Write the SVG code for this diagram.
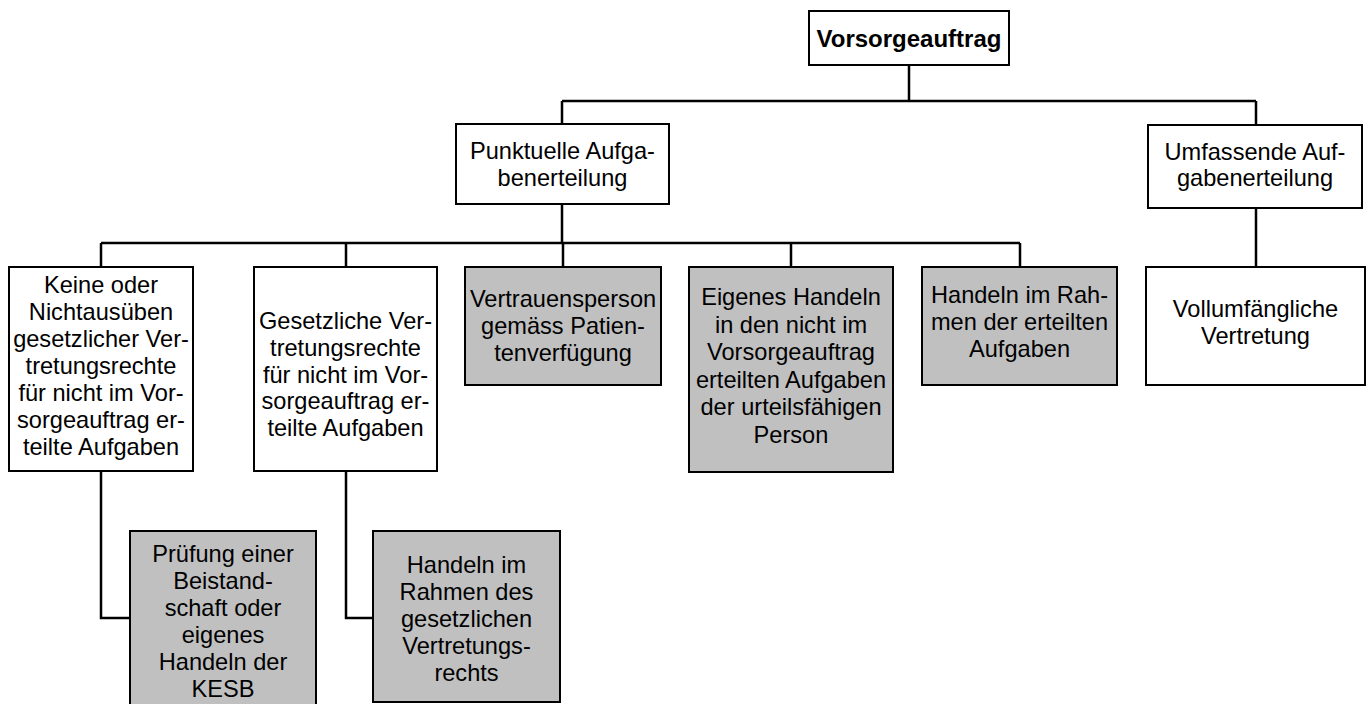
<svg xmlns="http://www.w3.org/2000/svg" width="1370" height="704" viewBox="0 0 1370 704">
<style>
.w{fill:#ffffff;stroke:#000000;stroke-width:2}
.g{fill:#c0c0c0;stroke:#000000;stroke-width:2}
text{font-family:"Liberation Sans",Arial,sans-serif;font-size:23.6px;fill:#000000;text-anchor:middle}
.b{font-weight:bold;font-size:24px}
.c{fill:none;stroke:#000000;stroke-width:2.5}
</style>
<rect width="1370" height="704" fill="#ffffff"/>
<g id="connectors">
<path class="c" d="M909 65V101M562 101H1256M562 101V124M1256 101V125"/>
<path class="c" d="M562 204V243M101 243H1020M101 243V267M346 243V267M563 243V267M791 243V267M1020 243V267"/>
<path class="c" d="M1256 208V267"/>
<path class="c" d="M101 471V618H130"/>
<path class="c" d="M346 471V618H373"/>
</g>
<g id="n-vorsorgeauftrag">
<rect class="w" x="809" y="11" width="200" height="54"/>
<text class="b" x="909" y="47">Vorsorgeauftrag</text>
</g>
<g id="n-punktuelle">
<rect class="w" x="456" y="124" width="213" height="80"/>
<text x="562.5" y="158.5">Punktuelle Aufga-</text>
<text x="562.5" y="185.5">benerteilung</text>
</g>
<g id="n-umfassende">
<rect class="w" x="1148" y="125" width="214" height="83"/>
<text x="1255" y="160">Umfassende Auf-</text>
<text x="1255" y="186">gabenerteilung</text>
</g>
<g id="n-keine">
<rect class="w" x="9" y="267" width="184" height="204"/>
<text x="101" y="293">Keine oder</text>
<text x="101" y="320">Nichtausüben</text>
<text x="101" y="347">gesetzlicher Ver-</text>
<text x="101" y="374">tretungsrechte</text>
<text x="101" y="401">für nicht im Vor-</text>
<text x="101" y="428">sorgeauftrag er-</text>
<text x="101" y="455">teilte Aufgaben</text>
</g>
<g id="n-gesetzliche">
<rect class="w" x="254" y="267" width="183" height="204"/>
<text x="345.5" y="328.5">Gesetzliche Ver-</text>
<text x="345.5" y="355.5">tretungsrechte</text>
<text x="345.5" y="382.5">für nicht im Vor-</text>
<text x="345.5" y="409">sorgeauftrag er-</text>
<text x="345.5" y="436">teilte Aufgaben</text>
</g>
<g id="n-vertrauensperson">
<rect class="g" x="465" y="267" width="196" height="118"/>
<text x="563" y="306.5">Vertrauensperson</text>
<text x="563" y="333.5">gemäss Patien-</text>
<text x="563" y="360.5">tenverfügung</text>
</g>
<g id="n-eigenes">
<rect class="g" x="689" y="267" width="204" height="205"/>
<text x="791" y="305">Eigenes Handeln</text>
<text x="791" y="332.6">in den nicht im</text>
<text x="791" y="360.2">Vorsorgeauftrag</text>
<text x="791" y="387.8">erteilten Aufgaben</text>
<text x="791" y="415.4">der urteilsfähigen</text>
<text x="791" y="443">Person</text>
</g>
<g id="n-handeln-erteilt">
<rect class="g" x="922" y="267" width="195" height="118"/>
<text x="1019.5" y="302.5">Handeln im Rah-</text>
<text x="1019.5" y="329.5">men der erteilten</text>
<text x="1019.5" y="356.5">Aufgaben</text>
</g>
<g id="n-vollumfaenglich">
<rect class="w" x="1146" y="267" width="219" height="118"/>
<text x="1255.5" y="317">Vollumfängliche</text>
<text x="1255.5" y="344">Vertretung</text>
</g>
<g id="n-pruefung">
<rect class="g" x="130" y="531" width="186" height="180"/>
<text x="223" y="562">Prüfung einer</text>
<text x="223" y="589">Beistand-</text>
<text x="223" y="616">schaft oder</text>
<text x="223" y="643">eigenes</text>
<text x="223" y="670">Handeln der</text>
<text x="223" y="697">KESB</text>
</g>
<g id="n-handeln-gesetzlich">
<rect class="g" x="373" y="531" width="187" height="171"/>
<text x="466.5" y="573">Handeln im</text>
<text x="466.5" y="600">Rahmen des</text>
<text x="466.5" y="627">gesetzlichen</text>
<text x="466.5" y="654">Vertretungs-</text>
<text x="466.5" y="681">rechts</text>
</g>
</svg>
